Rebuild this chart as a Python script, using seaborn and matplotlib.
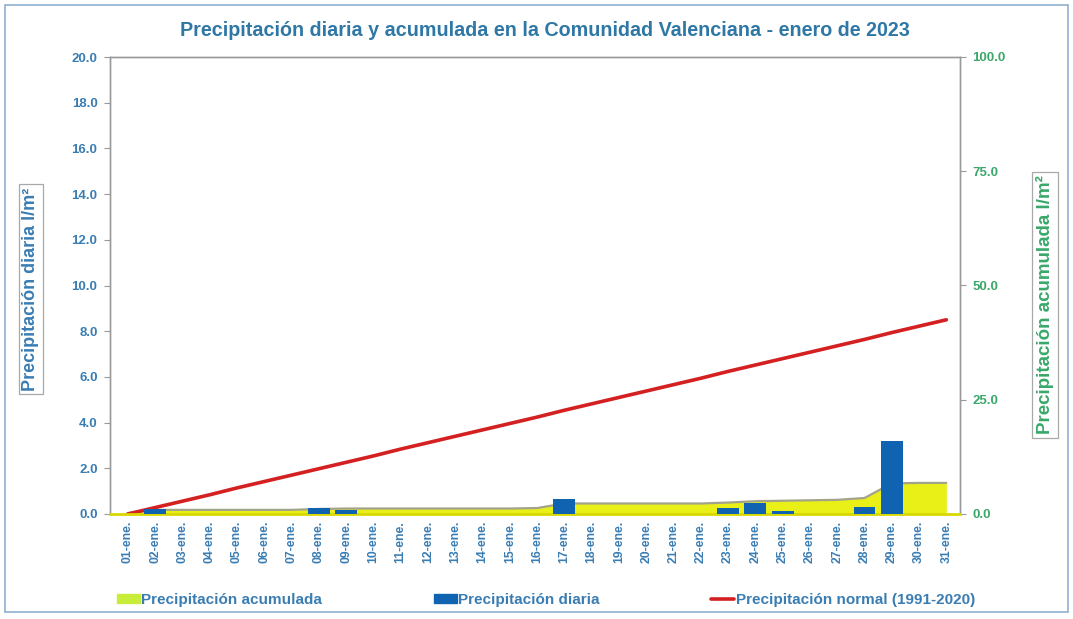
import matplotlib
matplotlib.use("Agg")
import matplotlib.pyplot as plt
from matplotlib.patches import Patch, Rectangle
from matplotlib.lines import Line2D
import numpy as np
import pandas as pd
import seaborn as sns

days = [f"{d:02d}-ene." for d in range(1, 32)]
daily = [0.0, 0.22, 0.0, 0.0, 0.0, 0.0, 0.0, 0.28, 0.17, 0.0,
         0.0, 0.0, 0.0, 0.0, 0.0, 0.0, 0.65, 0.0, 0.0, 0.0,
         0.0, 0.0, 0.25, 0.5, 0.13, 0.0, 0.0, 0.3, 3.2, 0.0, 0.0]
accumulated = [0.2, 0.9, 0.9, 0.9, 0.9, 0.9, 0.9, 1.1, 1.2, 1.2,
               1.2, 1.2, 1.2, 1.2, 1.2, 1.3, 2.3, 2.3, 2.3, 2.3,
               2.3, 2.3, 2.5, 2.8, 2.9, 3.0, 3.1, 3.5, 6.7, 6.8, 6.8]
normal = [0.0, 1.4, 2.8, 4.2, 5.7, 7.1, 8.5, 9.9, 11.3, 12.7,
          14.2, 15.6, 17.0, 18.4, 19.8, 21.2, 22.7, 24.1, 25.5, 26.9,
          28.3, 29.7, 31.2, 32.6, 34.0, 35.4, 36.8, 38.2, 39.7, 41.1, 42.5]
left_ticks = [0, 2, 4, 6, 8, 10, 12, 14, 16, 18, 20]
right_ticks = [0, 25, 50, 75, 100]

df = pd.DataFrame({"dia": days, "diaria": daily, "acumulada": accumulated,
                   "normal": normal})
df["pos"] = np.arange(len(df))

sns.set_theme(style="white")
plt.rcParams["font.family"] = ["Liberation Sans", "DejaVu Sans"]
plt.rcParams["font.weight"] = "bold"

BLUE_TXT = "#3a7db3"
GREEN_TXT = "#3aa86a"
BAR = "#0f63b0"
FILL = "#e8f018"
RED = "#d42020"

fig = plt.figure(figsize=(10.73, 6.19), dpi=100)
ax = fig.add_axes([110 / 1073, 1 - 514 / 619, 850 / 1073, 457 / 619])
ax2 = ax.twinx()

# accumulated area + normal line on right axis
ax2.fill_between(df["pos"], 0, df["acumulada"], color=FILL, lw=0, zorder=1)
ax2.plot(df["pos"], df["acumulada"], color="#a3a38a", lw=1.6, zorder=2)
sns.lineplot(data=df, x="pos", y="normal", color=RED, lw=2.6, ax=ax2, zorder=3)

# daily bars on left axis, drawn on top
sns.barplot(data=df, x="pos", y="diaria", color=BAR, width=0.8,
            saturation=1, linewidth=0, ax=ax, zorder=4)
ax.set_zorder(ax2.get_zorder() + 1)
ax.patch.set_visible(False)

ax.set_xlim(-0.65, 30.5)
ax.set_ylim(0, 20)
ax2.set_ylim(0, 100)
ax.set_yticks(left_ticks)
ax.set_yticklabels([f"{v:.1f}" for v in left_ticks], color=BLUE_TXT,
                   fontsize=9.5, fontweight="bold")
ax2.set_yticks(right_ticks)
ax2.set_yticklabels([f"{v:.1f}" for v in right_ticks], color=GREEN_TXT,
                    fontsize=9.5, fontweight="bold")
ax.set_xticks(df["pos"])
ax.set_xticklabels(days, rotation=90, fontsize=8.8, color=BLUE_TXT,
                   fontweight="bold")
ax.tick_params(axis="x", length=0, pad=5)
ax.tick_params(axis="y", length=4, color="#999999", width=0.8, direction="out",
               left=True, pad=5)
ax2.tick_params(axis="y", length=4, color="#999999", width=0.8, direction="out",
                right=True, pad=5)
ax.set_xlabel("")
ax.set_ylabel("")
ax2.set_xlabel("")
ax2.set_ylabel("")
for a in (ax, ax2):
    for s in a.spines.values():
        s.set_color("#9a9a9a")
        s.set_linewidth(1.0)
ax.spines["bottom"].set_color("#d8d800")
ax.spines["bottom"].set_linewidth(2)
ax2.spines["bottom"].set_visible(False)

box = dict(boxstyle="square,pad=0.2", fc="white", ec="#a8a8a8", lw=0.9)
fig.text(31 / 1073, 1 - 289 / 619, "Precipitación diaria l/m²", rotation=90,
         ha="center", va="center", color=BLUE_TXT, fontsize=13,
         fontweight="bold", bbox=box)
fig.text(1045 / 1073, 1 - 305 / 619, "Precipitación acumulada l/m²",
         rotation=90, ha="center", va="center", color=GREEN_TXT, fontsize=13.5,
         fontweight="bold", bbox=box)

fig.text(545 / 1073, 1 - 31 / 619,
         "Precipitación diaria y acumulada en la Comunidad Valenciana - enero de 2023",
         ha="center", va="center", color="#2f78a6", fontsize=14.2,
         fontweight="bold")

handles = [Patch(color="#c8ec3a"), Patch(color=BAR),
           Line2D([0], [0], color=RED, lw=2.6)]
labels = ["Precipitación acumulada", "Precipitación diaria",
          "Precipitación normal (1991-2020)"]
leg = fig.legend(handles, labels, loc="center", ncol=3,
                 bbox_to_anchor=(546 / 1073, 1 - 600 / 619), frameon=False,
                 handlelength=1.5, handleheight=0.55,
                 handletextpad=0.1, columnspacing=7.3,
                 prop={"weight": "bold", "size": 11})
for t in leg.get_texts():
    t.set_color(BLUE_TXT)

fig.patches.append(Rectangle((5 / 1073, 1 - 612 / 619), 1063 / 1073, 607 / 619,
                             transform=fig.transFigure, fill=False,
                             ec="#8fb0d0", lw=1.2))

fig.savefig("out.png", dpi=100)
